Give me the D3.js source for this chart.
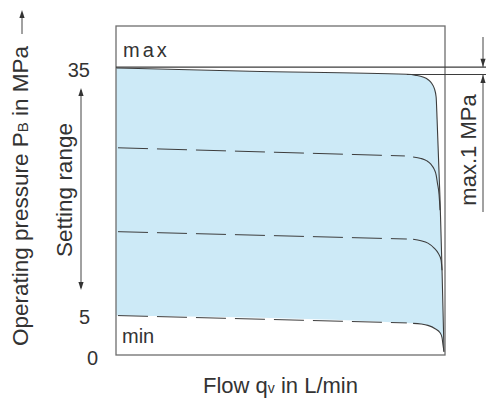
<!DOCTYPE html>
<html>
<head>
<meta charset="utf-8">
<script src="https://cdn.jsdelivr.net/npm/d3@7"></script>
<style>
  html, body { margin: 0; padding: 0; background: #fff; }
  svg text { font-family: "Liberation Sans", Arial, Helvetica, sans-serif; fill: #333; }
</style>
</head>
<body>
<svg id="chart" width="486" height="401"></svg>
<script>
// ---------- data (flow in % of max flow, pressure in MPa) ----------
const yTickValues = [0, 5, 35];
const yTickLabels = ["0", "5", "35"];

const maxFlow     = [0, 40.7, 88.4, 91.2, 93.3, 94.8, 96.0, 96.8, 97.3, 97.6, 98.5, 99.1, 99.7];
const maxPressure = [34.9, 34.5, 34.13, 34.0, 33.8, 33.5, 33.0, 32.35, 31.4, 28.6, 18.8, 10.3, 0.4];

const set25Flow     = [0, 87.8, 90.3, 92.7, 94.5, 95.7, 96.7, 97.3, 97.7, 98.2, 98.5];
const set25Pressure = [25.2, 24.2, 24.07, 23.9, 23.6, 23.2, 22.6, 21.9, 20.9, 19.5, 17.6];

const set15Flow     = [0, 88.4, 90.3, 92.7, 94.8, 96.7, 97.9, 98.8, 99.1];
const set15Pressure = [15.0, 14.1, 14.07, 13.9, 13.6, 13.0, 12.4, 11.55, 10.3];

const minFlow     = [0, 88.4, 90.3, 92.7, 94.8, 97.0, 98.5, 99.1, 99.4, 99.7];
const minPressure = [4.8, 3.9, 3.85, 3.77, 3.6, 3.2, 2.7, 2.1, 1.2, 0.4];

const maxRefPressures = [35, 34.1];   // reference lines of the "max. 1 MPa" dimension
const solidFromFlow = 90;             // dashed setting curves become solid from here

const zip = (f, p) => f.map((v, i) => ({ f: v, p: p[i] }));
const maxCurve = zip(maxFlow, maxPressure);
const settingCurves = [zip(set25Flow, set25Pressure), zip(set15Flow, set15Pressure), zip(minFlow, minPressure)];
const minCurve = settingCurves[2];

// ---------- layout ----------
const svg = d3.select("#chart");
const x = d3.scaleLinear().domain([0, 100]).range([116, 445]);
const y = d3.scaleLinear().domain([0, 40]).range([355, 26]);

const lineColor = "#3d3d3d";
const fillColor = "#cdeaf7";

const line = d3.line().x(d => x(d.f)).y(d => y(d.p)).curve(d3.curveMonotoneX);
const area = d3.area().x(d => x(d.f)).y0(y(0)).y1(d => y(d.p)).curve(d3.curveMonotoneX);

// fill: under max curve blue, under min curve white
svg.append("path").datum(maxCurve).attr("d", area).attr("fill", fillColor);
svg.append("path").datum(minCurve).attr("d", area).attr("fill", "#fff");

// setting curves: dashed flat part, solid knee
settingCurves.forEach(c => {
  svg.append("path").datum(c.filter(d => d.f < solidFromFlow)).attr("d", line)
    .attr("fill", "none").attr("stroke", lineColor).attr("stroke-width", 1)
    .attr("stroke-dasharray", "30,9").attr("stroke-dashoffset", -2);
  svg.append("path").datum(c.filter(d => d.f >= solidFromFlow)).attr("d", line)
    .attr("fill", "none").attr("stroke", lineColor).attr("stroke-width", 1.1);
});

// max curve
svg.append("path").datum(maxCurve).attr("d", line)
  .attr("fill", "none").attr("stroke", lineColor).attr("stroke-width", 1.1);

// frame
svg.append("rect")
  .attr("x", x(0)).attr("y", y(40))
  .attr("width", x(100) - x(0)).attr("height", y(0) - y(40))
  .attr("fill", "none").attr("stroke", "#6e6e6e").attr("stroke-width", 1.3);

// reference lines for max 1 MPa
svg.append("line").attr("x1", x(0)).attr("x2", 486)
  .attr("y1", y(maxRefPressures[0])).attr("y2", y(maxRefPressures[0]))
  .attr("stroke", lineColor).attr("stroke-width", 1.1);
svg.append("line").attr("x1", x(88.4)).attr("x2", 486)
  .attr("y1", y(maxRefPressures[1])).attr("y2", y(maxRefPressures[1]))
  .attr("stroke", lineColor).attr("stroke-width", 1.1);

// arrowheads
function arrowHead(tx, ty, dir) { // dir: 1 = pointing down, -1 = pointing up
  const len = 8, hw = 2.6;
  svg.append("path")
    .attr("d", `M${tx},${ty} L${tx - hw},${ty - dir * len} L${tx + hw},${ty - dir * len} Z`)
    .attr("fill", "#333");
}

// dimension line at right
const dimX = 483;
svg.append("line").attr("x1", dimX).attr("x2", dimX).attr("y1", 37).attr("y2", y(maxRefPressures[0]))
  .attr("stroke", "#444").attr("stroke-width", 1);
arrowHead(dimX, y(maxRefPressures[0]) - 0.5, 1);
svg.append("line").attr("x1", dimX).attr("x2", dimX).attr("y1", y(maxRefPressures[1])).attr("y2", 212)
  .attr("stroke", "#444").attr("stroke-width", 1);
arrowHead(dimX, y(maxRefPressures[1]) + 0.5, -1);

svg.append("text")
  .attr("transform", "translate(476,150) rotate(-90)")
  .attr("text-anchor", "middle").attr("font-size", 22)
  .text("max.1 MPa");

// y tick labels
svg.selectAll("text.ytick").data(yTickValues).enter().append("text")
  .attr("class", "ytick")
  .attr("x", d => d === 0 ? 98 : 90)
  .attr("y", d => y(d) + 10)
  .attr("text-anchor", "end").attr("font-size", 20)
  .text((d, i) => yTickLabels[i]);

// max / min labels
svg.append("text").attr("x", 123).attr("y", 57).attr("font-size", 20)
  .attr("letter-spacing", 3).text("max");
svg.append("text").attr("x", 122).attr("y", 343).attr("font-size", 20).text("min");

// setting range double arrow
svg.append("line").attr("x1", 81).attr("x2", 81).attr("y1", 90).attr("y2", 288)
  .attr("stroke", "#444").attr("stroke-width", 1);
arrowHead(81, 88, -1);
arrowHead(81, 290, 1);
svg.append("text")
  .attr("transform", "translate(72,190) rotate(-90)")
  .attr("text-anchor", "middle").attr("font-size", 22.5)
  .text("Setting range");

// y axis title with arrow
const yt = svg.append("text")
  .attr("transform", "translate(28,196) rotate(-90)")
  .attr("text-anchor", "middle").attr("font-size", 22.5);
yt.append("tspan").text("Operating pressure P");
yt.append("tspan").attr("font-size", 15).text("B");
yt.append("tspan").text(" in MPa");
svg.append("line").attr("x1", 22).attr("x2", 22).attr("y1", 34).attr("y2", 14)
  .attr("stroke", "#444").attr("stroke-width", 1);
arrowHead(22, 10, -1);

// x axis title
const xt = svg.append("text")
  .attr("x", (x(0) + x(100)) / 2).attr("y", 393)
  .attr("text-anchor", "middle").attr("font-size", 22);
xt.append("tspan").text("Flow q");
xt.append("tspan").attr("font-size", 14).text("v");
xt.append("tspan").text(" in L/min");
</script>
</body>
</html>
